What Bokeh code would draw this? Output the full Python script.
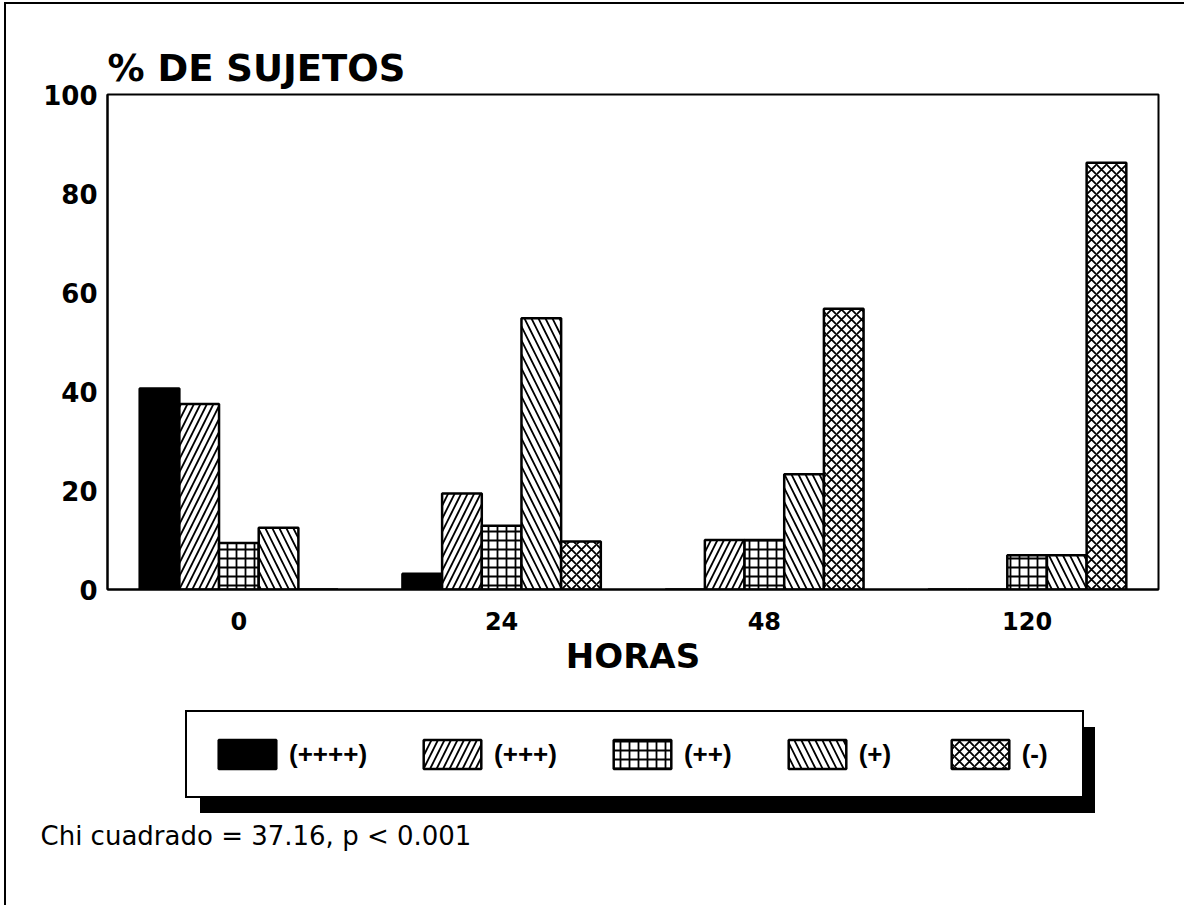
from bokeh.plotting import figure
from bokeh.layouts import column
from bokeh.models import (ColumnDataSource, FactorRange, Range1d, Legend,
                          LegendItem, FixedTicker, Title)
from bokeh.transform import dodge
from bokeh.embed import file_html
from bokeh.resources import INLINE

# ---------------- data ----------------
horas = ["0", "24", "48", "120"]
categorias = ["(++++)", "(+++)", "(++)", "(+)", "(-)"]
pct_4plus = [40.6, 3.2, 0.0, 0.0]
pct_3plus = [37.5, 19.4, 10.0, 0.0]
pct_2plus = [9.4, 12.9, 10.0, 6.9]
pct_1plus = [12.5, 54.8, 23.3, 6.9]
pct_neg = [0.0, 9.7, 56.7, 86.2]
y_ticks = [0, 20, 40, 60, 80, 100]
titulo_y = "% DE SUJETOS"
titulo_x = "HORAS"
nota = "Chi cuadrado = 37.16, p < 0.001"

series = [pct_4plus, pct_3plus, pct_2plus, pct_1plus, pct_neg]
keys = ["s0", "s1", "s2", "s3", "s4"]
data = {"hora": horas}
for k, s in zip(keys, series):
    data[k] = s
source = ColumnDataSource(data)

# ---------------- styles ----------------
fills = ["black", "white", "white", "white", "white"]
hatches = [None, "/", "+", "\\", "x"]
hscales = [12, 13, 9, 14, 10]


def bar_style(i):
    kw = dict(fill_color=fills[i], line_color="black", line_width=2.5)
    if hatches[i] is not None:
        kw.update(hatch_pattern=hatches[i], hatch_color="black",
                  hatch_weight=1.8, hatch_scale=hscales[i])
    return kw


W = 1178
FW, FH = 1049, 493
ML, MT = 101, 90
MR = W - ML - FW
MB = 113

p = figure(x_range=FactorRange(factors=horas), y_range=Range1d(0, 100),
           frame_width=FW, frame_height=FH,
           min_border_left=ML, min_border_top=MT, min_border_right=MR,
           min_border_bottom=MB,
           output_backend="svg", toolbar_location=None,
           background_fill_color="white", border_fill_color="white",
           margin=(2, 0, 0, 4),
           styles={"border-left": "2px solid black",
                   "border-top": "2px solid black"})
p.outline_line_color = "black"
p.outline_line_width = 2
p.grid.visible = False

bw = 0.151
for i, k in enumerate(keys):
    p.vbar(x=dodge("hora", (i - 2) * bw, range=p.x_range), top=k,
           width=bw, source=source, **bar_style(i))

# axes
p.yaxis.ticker = FixedTicker(ticks=y_ticks)
for ax in (p.xaxis[0], p.yaxis[0]):
    ax.axis_line_color = "black"
    ax.axis_line_width = 2
    ax.major_tick_line_color = None
    ax.minor_tick_line_color = None
    ax.major_label_text_font = "DejaVu Sans"
    ax.major_label_text_font_style = "bold"
    ax.major_label_text_color = "black"
p.yaxis.major_label_text_font_size = "26px"
p.xaxis.major_label_text_font_size = "24px"
p.yaxis.major_label_standoff = 4
p.xaxis.major_label_standoff = 16
p.xaxis.axis_label = titulo_x
p.xaxis.axis_label_text_font = "DejaVu Sans"
p.xaxis.axis_label_text_font_style = "bold"
p.xaxis.axis_label_text_font_size = "34px"
p.xaxis.axis_label_text_color = "black"
p.xaxis.axis_label_standoff = 3

# title
p.title.text = titulo_y
p.title.text_font = "DejaVu Sans"
p.title.text_font_style = "bold"
p.title.text_font_size = "37px"
p.title.text_color = "black"
p.title.align = "left"
p.title.standoff = 9

# ---------------- legend + footnote panel ----------------
FH2, MB2 = 118, 87
p2 = figure(x_range=Range1d(0, W), y_range=Range1d(0, FH2),
            frame_width=W, frame_height=FH2,
            min_border=0, min_border_bottom=MB2,
            x_axis_type=None, y_axis_type=None,
            output_backend="svg", toolbar_location=None,
            background_fill_color="white", border_fill_color="white",
            outline_line_color=None,
            margin=(0, 0, 0, 4),
            styles={"border-left": "2px solid black"})
p2.grid.visible = False

# legend swatch renderers (hidden; only used for the legend glyphs)
swatches = []
for i in range(len(categorias)):
    r = p2.vbar(x=[500], bottom=[-3000], top=[-2000], width=1,
                visible=False, **bar_style(i))
    swatches.append(r)

# shadow of the legend box: a one-item legend with a solid black box
shadow = Legend(items=[LegendItem(label="", renderers=[swatches[0]])],
                location=(194, 5), orientation="horizontal",
                glyph_width=895, glyph_height=86, label_standoff=0,
                label_width=0, label_height=0, padding=0, margin=0,
                label_text_font_size="1px",
                border_line_color=None, background_fill_color="black",
                background_fill_alpha=1.0)
p2.add_layout(shadow)

items = [LegendItem(label=c, renderers=[r]) for c, r in zip(categorias, swatches)]
legend = Legend(items=items, location=(179, 20), orientation="horizontal",
                glyph_width=72, glyph_height=36, label_standoff=6,
                label_width=36, spacing=49, padding=24, margin=0,
                label_text_font="Liberation Sans", label_text_font_style="bold",
                label_text_font_size="26px", label_text_color="black",
                border_line_color="black", border_line_width=2,
                border_line_alpha=1.0,
                background_fill_color="white", background_fill_alpha=1.0)
p2.add_layout(legend)

foot = Title(text=nota, align="left", offset=-67, standoff=0,
             text_font="DejaVu Sans", text_font_style="normal",
             text_font_size="26px", text_color="black")
p2.add_layout(foot, "below")

layout = column(p, p2, spacing=0)
open("out.html", "w").write(file_html(layout, INLINE))
